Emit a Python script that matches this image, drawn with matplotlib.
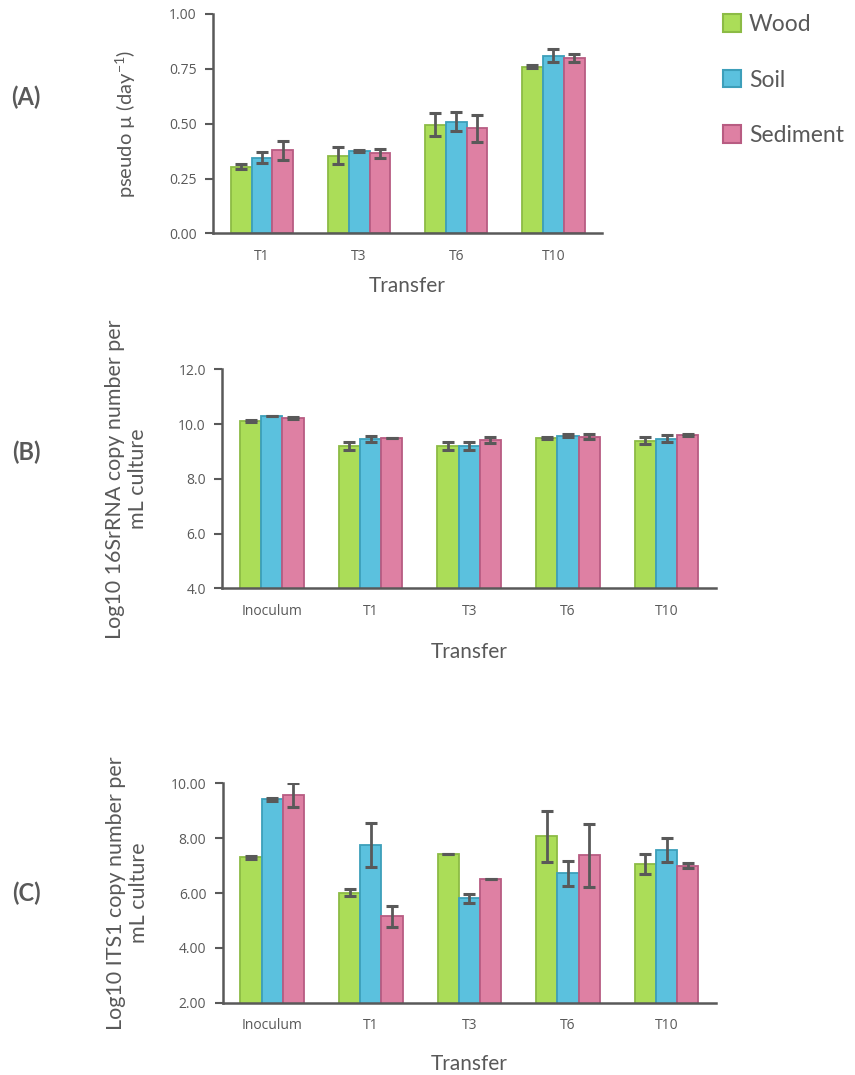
import numpy as np
import matplotlib
matplotlib.use("Agg")
import matplotlib.pyplot as plt
from matplotlib.patches import Patch

plt.rcParams["mathtext.default"] = "regular"

# growth rate per transfer
rate_cats = ["T1", "T3", "T6", "T10"]
rate_wood = [0.305, 0.355, 0.495, 0.760]
rate_soil = [0.345, 0.375, 0.510, 0.810]
rate_sed = [0.380, 0.365, 0.480, 0.800]
rate_wood_err = [0.012, 0.037, 0.053, 0.006]
rate_soil_err = [0.026, 0.006, 0.044, 0.029]
rate_sed_err = [0.043, 0.019, 0.061, 0.017]

# 16S rRNA copies
copy_cats = ["Inoculum", "T1", "T3", "T6", "T10"]
bac_wood = [10.10, 9.20, 9.20, 9.48, 9.40]
bac_soil = [10.30, 9.47, 9.20, 9.58, 9.47]
bac_sed = [10.23, 9.48, 9.41, 9.54, 9.60]
bac_wood_err = [0.04, 0.14, 0.14, 0.04, 0.12]
bac_soil_err = [0.0, 0.11, 0.14, 0.04, 0.12]
bac_sed_err = [0.04, 0.0, 0.10, 0.10, 0.04]

# ITS1 copies
its_wood = [7.30, 6.01, 7.43, 8.07, 7.06]
its_soil = [9.42, 7.75, 5.81, 6.72, 7.58]
its_sed = [9.57, 5.15, 6.51, 7.38, 7.00]
its_wood_err = [0.05, 0.13, 0.0, 0.94, 0.38]
its_soil_err = [0.05, 0.81, 0.16, 0.46, 0.43]
its_sed_err = [0.44, 0.37, 0.0, 1.15, 0.10]

labels = ["Wood", "Soil", "Sediment"]
fills = ["#abdd58", "#5bc1de", "#de80a3"]
edges = ["#8cbb45", "#3d9fba", "#b85c82"]
grey = "#595959"

lato = ["Lato", "DejaVu Sans"]
tick_font = ["Open Sans", "DejaVu Sans"]

fig = plt.figure(figsize=(8.55, 10.75), dpi=100)


def bar_panel(rect, cats, vals, errs, ylim, yticks, fmt, ylabel, ylabel_x,
              ylabel_size, xlabel_pad):
    ax = fig.add_axes(rect)
    x = np.arange(len(cats))
    w = 0.215
    for i in range(3):
        ax.bar(x + (i - 1) * w, vals[i], w, color=fills[i], edgecolor=edges[i],
               linewidth=1.3, zorder=2)
        ax.errorbar(x + (i - 1) * w, vals[i], yerr=errs[i], fmt="none",
                    ecolor=grey, elinewidth=2, capsize=4.5, capthick=2.2, zorder=3)
    ax.set_xlim(-0.5, len(cats) - 0.5)
    ax.set_ylim(*ylim)
    ax.set_yticks(yticks)
    ax.set_yticklabels([fmt.format(v) for v in yticks], family=tick_font,
                       fontsize=10, color=grey)
    ax.set_xticks(x)
    ax.set_xticklabels(cats, family=tick_font, fontsize=10, color=grey)
    ax.tick_params(axis="x", length=0, pad=11)
    ax.tick_params(axis="y", length=6, width=1.5, color=grey, pad=6)
    for s in ("top", "right"):
        ax.spines[s].set_visible(False)
    for s in ("left", "bottom"):
        ax.spines[s].set_color(grey)
        ax.spines[s].set_linewidth(1.8)
    ax.set_xlabel("Transfer", family=lato, fontsize=15, color=grey,
                  labelpad=xlabel_pad)
    ax.set_ylabel(ylabel, family=lato, fontsize=ylabel_size, color=grey,
                  linespacing=1.2)
    ax.yaxis.set_label_coords(ylabel_x, 0.5)
    return ax


bar_panel([0.2497, 0.7828, 0.4541, 0.2042], rate_cats,
          [rate_wood, rate_soil, rate_sed],
          [rate_wood_err, rate_soil_err, rate_sed_err],
          (0, 1.0), [0, 0.25, 0.5, 0.75, 1.0], "{:.2f}",
          "pseudo \u00b5 (day$^{-1}$)", -0.195, 14.5, 9)

bar_panel([0.2602, 0.4526, 0.5772, 0.2039], copy_cats,
          [bac_wood, bac_soil, bac_sed],
          [bac_wood_err, bac_soil_err, bac_sed_err],
          (4, 12), [4, 6, 8, 10, 12], "{:.1f}",
          "Log10 16SrRNA copy number per\nmL culture", -0.15, 15.5, 17)

bar_panel([0.2608, 0.0672, 0.5766, 0.2041], copy_cats,
          [its_wood, its_soil, its_sed],
          [its_wood_err, its_soil_err, its_sed_err],
          (2, 10), [2, 4, 6, 8, 10], "{:.2f}",
          "Log10 ITS1 copy number per\nmL culture", -0.15, 15.5, 15)

# panel letters
for letter, yy in (("(A)", 97), ("(B)", 452), ("(C)", 893)):
    fig.text(26 / 855, 1 - yy / 1075, letter, family=lato, fontsize=17,
             fontweight="bold", color=grey, ha="center", va="center")

handles = [Patch(facecolor=fills[i], edgecolor=edges[i], linewidth=1.5)
           for i in range(3)]
fig.legend(handles, labels, loc="upper left", bbox_to_anchor=(0.821, 1.006),
           frameon=False, prop={"family": lato, "size": 16.5},
           labelcolor=grey, handlelength=0.8, handleheight=0.8,
           handletextpad=0.35, labelspacing=1.5)

fig.savefig("out.png", dpi=100)
